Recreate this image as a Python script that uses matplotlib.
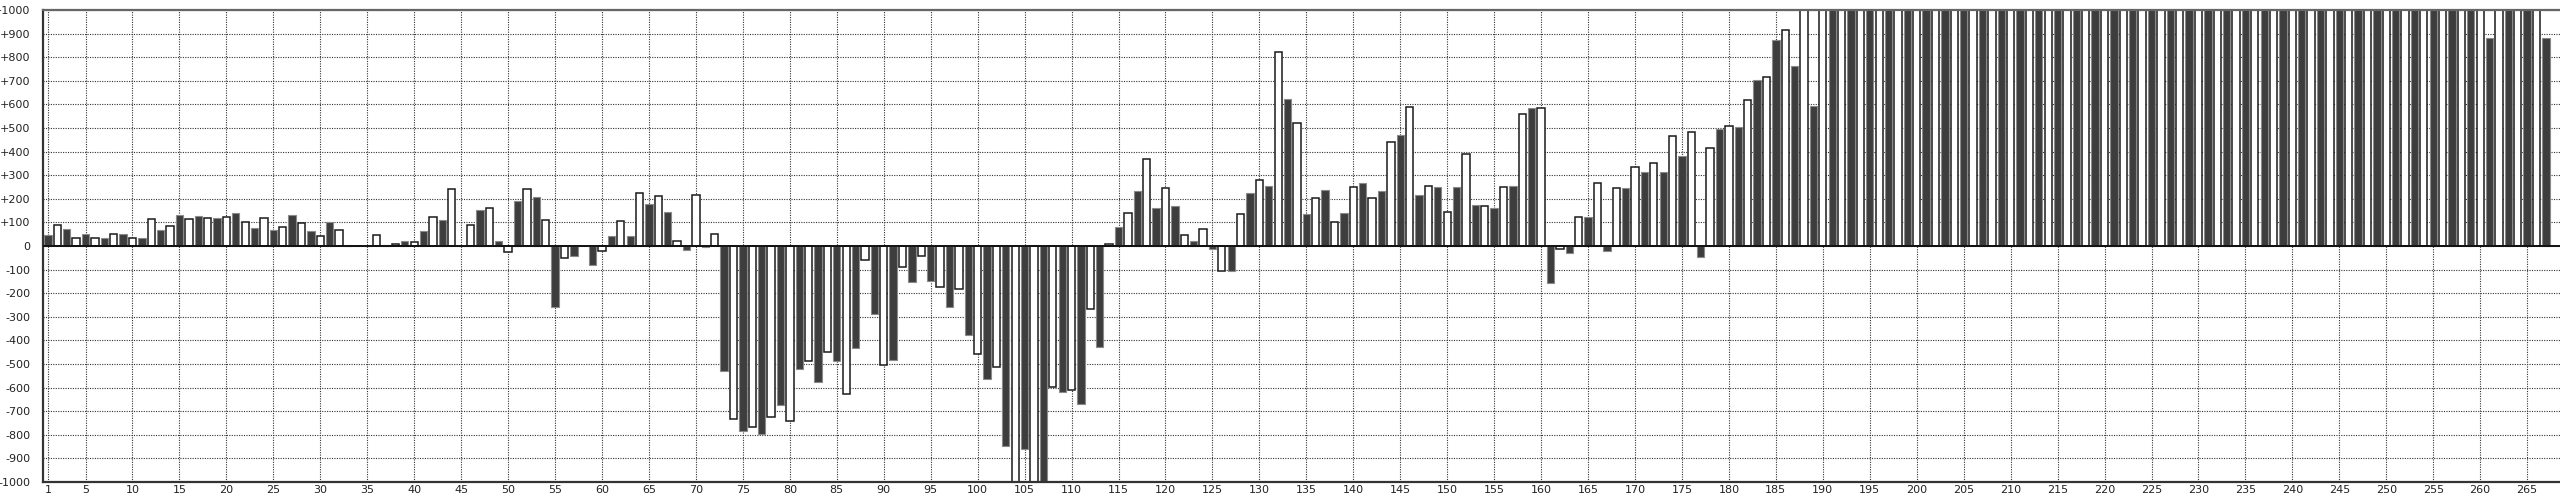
import matplotlib
matplotlib.use("Agg")
import matplotlib.pyplot as plt

# one bar per position 1..267, odd positions dark, even positions white
# (values above +1000 / below -1000 run off the chart and are clipped)
values = [
    48, 90, 72, 35, 52, 35, 35, 51, 51, 35,              # 1-10
    35, 116, 66, 86, 132, 116, 126, 120, 120, 124,       # 11-20
    141, 100, 76, 120, 66, 81, 130, 96, 62, 44,          # 21-30
    100, 69, 6, 0, 0, 45, 6, 10, 23, 16,                 # 31-40
    62, 122, 112, 240, 0, 90, 151, 161, 23, -25,         # 41-50
    192, 240, 206, 112, -259, -51, -41, 0, -81, -20,     # 51-60
    42, 107, 42, 226, 177, 211, 143, 23, -16, 216,       # 61-70
    -4, 51, -528, -731, -786, -769, -796, -723, -672, -743,   # 71-80
    -522, -487, -578, -451, -488, -627, -433, -58, -289, -504,  # 81-90
    -482, -89, -154, -41, -150, -173, -259, -184, -379, -457,   # 91-100
    -563, -512, -846, -1200, -861, -1200, -1200, -597, -617, -611,  # 101-110
    -668, -267, -429, 10, 82, 141, 231, 369, 161, 245,   # 111-120
    171, 45, 23, 71, -11, -105, -105, 136, 226, 280,     # 121-130
    255, 822, 624, 523, 136, 205, 236, 100, 141, 249,    # 131-140
    266, 205, 231, 440, 470, 588, 216, 256, 250, 146,    # 141-150
    250, 389, 175, 170, 161, 250, 256, 559, 584, 584,    # 151-160
    -156, -11, -31, 122, 122, 266, -20, 245, 245, 335,   # 161-170
    315, 351, 315, 464, 380, 484, -45, 414, 496, 509,    # 171-180
    504, 620, 703, 717, 873, 917, 764, 1200, 595, 1200,  # 181-190
] + [1200] * 70 + [883, 1200, 1200, 1200, 1200, 1200, 883]  # 191-260, 261-267

categories = list(range(1, len(values) + 1))
x_ticks = [1] + list(range(5, 266, 5))
y_ticks = list(range(-1000, 1001, 100))
y_labels = [f"{v:+d}" if v else "0" for v in y_ticks]

W, H = 2560, 495
fig = plt.figure(figsize=(W / 100, H / 100), dpi=100)
ax = fig.add_axes([43 / W, 13 / H, 1 - 43 / W, 472 / H])

face = ["#3d3d3d" if c % 2 else "white" for c in categories]
edge = ["#8a8a8a" if c % 2 else "#1a1a1a" for c in categories]
lw = [0.8 if c % 2 else 1.1 for c in categories]
ax.bar(categories, values, width=0.78, color=face, edgecolor=edge,
       linewidth=lw, zorder=2)
ax.axhline(0, color="#111111", linewidth=1.4, zorder=3)

ax.set_xlim(0.47, 268.5)
ax.set_ylim(-1000, 1000)
ax.set_xticks(x_ticks)
ax.set_xticklabels([str(t) for t in x_ticks])
ax.set_yticks(y_ticks)
ax.set_yticklabels(y_labels)
ax.tick_params(axis="both", length=0, labelsize=8, colors="#222222")
ax.tick_params(axis="y", pad=9)
ax.tick_params(axis="x", pad=2)

ax.set_axisbelow(True)
ax.grid(True, color="#333333", linestyle=(0, (1, 1.2)), linewidth=0.8)

for side in ("left", "bottom"):
    ax.spines[side].set_color("#333333")
    ax.spines[side].set_linewidth(1.6)
ax.spines["top"].set_color("#666666")
ax.spines["top"].set_linewidth(1.6)
ax.spines["right"].set_visible(False)

fig.savefig("out.png", dpi=100)
